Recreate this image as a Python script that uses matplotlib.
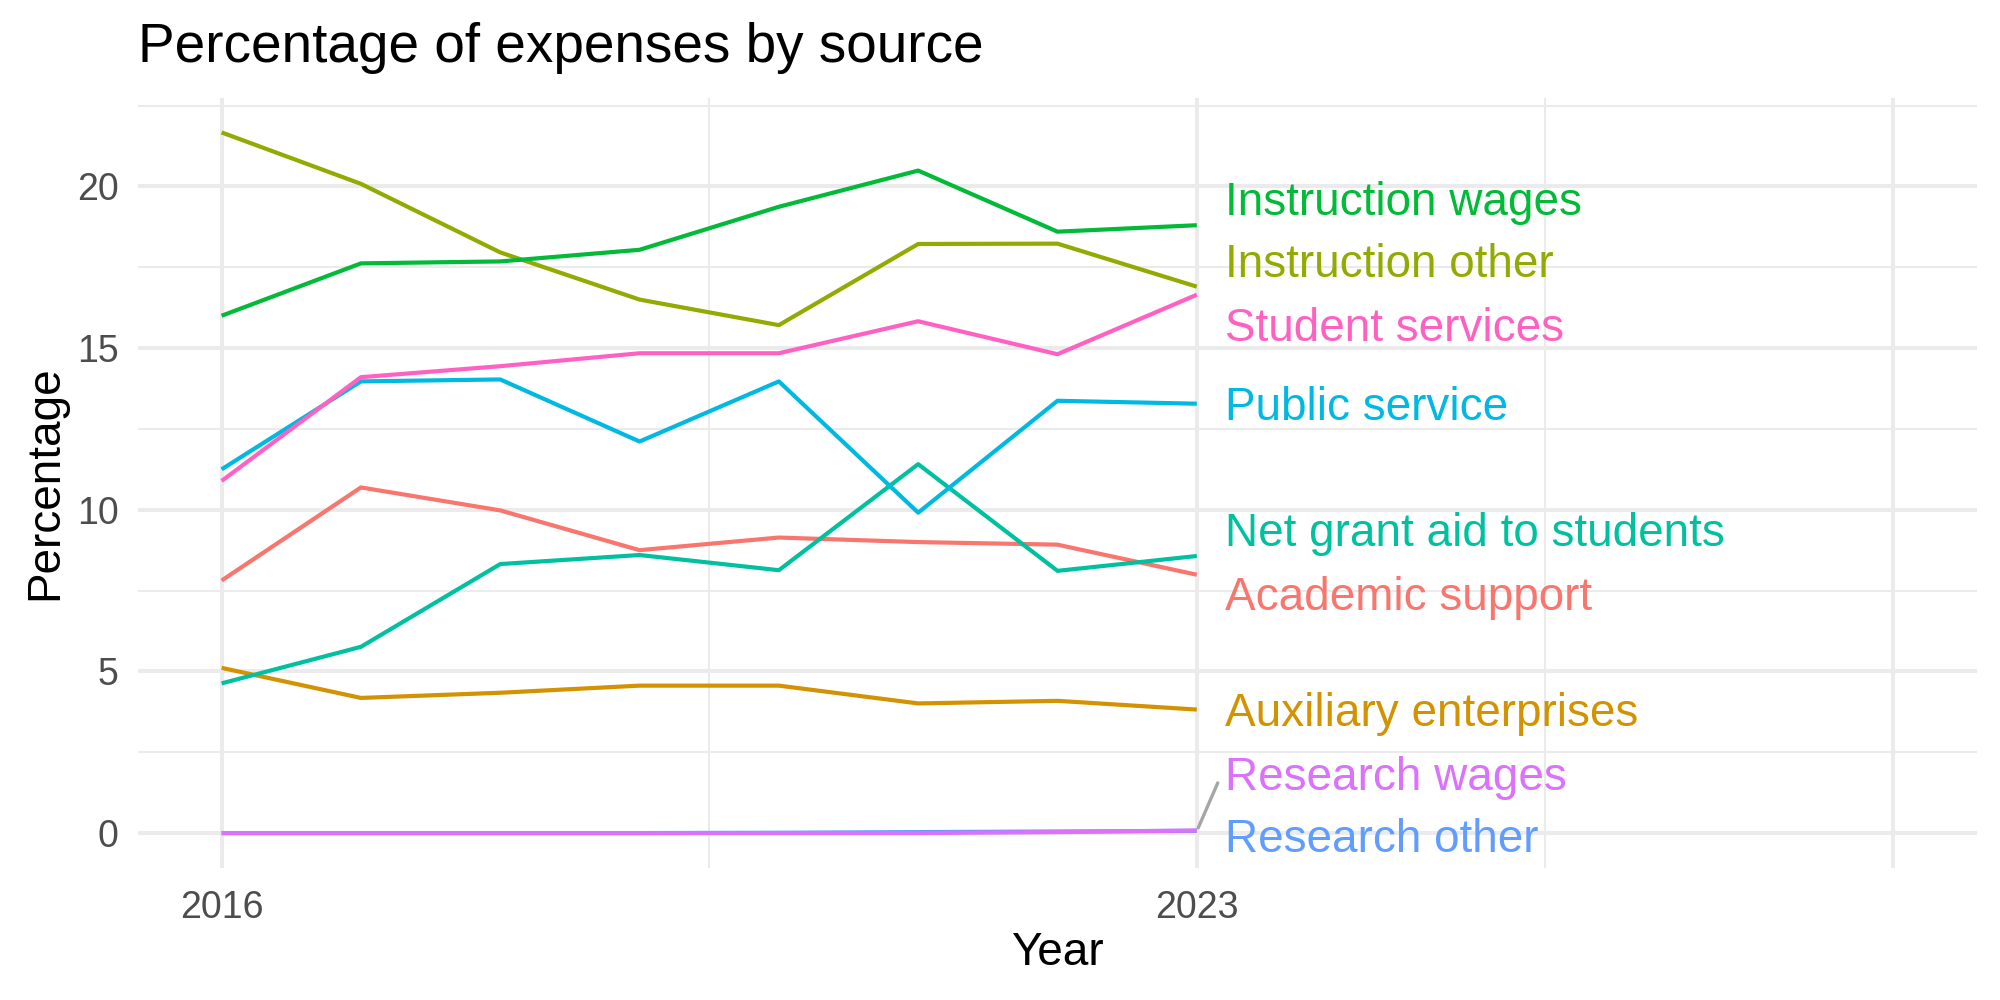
import matplotlib
matplotlib.use("Agg")
import matplotlib.pyplot as plt
from matplotlib.ticker import FixedLocator

plt.rcParams['font.family'] = ['Liberation Sans', 'DejaVu Sans']

years = [2016, 2017, 2018, 2019, 2020, 2021, 2022, 2023]

categories = [
    "Academic support",
    "Auxiliary enterprises",
    "Instruction other",
    "Instruction wages",
    "Net grant aid to students",
    "Public service",
    "Research other",
    "Research wages",
    "Student services",
]

academic_support = [7.81, 10.69, 9.98, 8.75, 9.14, 9.00, 8.92, 7.99]
auxiliary_enterprises = [5.11, 4.18, 4.34, 4.56, 4.56, 4.01, 4.09, 3.82]
instruction_other = [21.67, 20.08, 17.96, 16.50, 15.71, 18.22, 18.23, 16.90]
instruction_wages = [16.00, 17.62, 17.68, 18.04, 19.37, 20.49, 18.60, 18.80]
net_grant_aid = [4.63, 5.76, 8.32, 8.60, 8.13, 11.41, 8.11, 8.57]
public_service = [11.25, 13.97, 14.03, 12.11, 13.97, 9.91, 13.37, 13.28]
research_other = [0.00, 0.00, 0.00, 0.00, 0.01, 0.03, 0.05, 0.07]
research_wages = [0.00, 0.00, 0.00, 0.00, 0.00, 0.00, 0.03, 0.08]
student_services = [10.89, 14.10, 14.44, 14.84, 14.84, 15.83, 14.81, 16.65]

series = [academic_support, auxiliary_enterprises, instruction_other,
          instruction_wages, net_grant_aid, public_service, research_other,
          research_wages, student_services]

colors = ["#F8766D", "#D39200", "#93AA00", "#00BA38", "#00C19F",
          "#00B9E3", "#619CFF", "#DB72FB", "#FF61C3"]

# repelled label baselines (layout)
label_baselines = [6.90, 3.31, 17.21, 19.13, 8.87, 12.79, -0.60, 1.34, 15.23]
label_x = 2023.2

x_tick_labels = ["2016", "2023"]
y_tick_labels = ["0", "5", "10", "15", "20"]

fig = plt.figure(figsize=(20, 10), dpi=100)
ax = fig.add_axes([0.069, 0.132, 0.9195, 0.7705])

grid_col = "#EBEBEB"
for v in [2016, 2023, 2028]:
    ax.axvline(v, color=grid_col, lw=2.9, zorder=0)
for v in [2019.5, 2025.5]:
    ax.axvline(v, color=grid_col, lw=1.5, zorder=0)
for v in [0, 5, 10, 15, 20]:
    ax.axhline(v, color=grid_col, lw=2.9, zorder=0)
for v in [2.5, 7.5, 12.5, 17.5, 22.5]:
    ax.axhline(v, color=grid_col, lw=1.5, zorder=0)

for vals, col in zip(series, colors):
    ax.plot(years, vals, color=col, lw=3.0, solid_capstyle='butt', zorder=2)

# segment for research wages label
rw_end = research_wages[-1]
ax.plot([years[-1] + 0.01, years[-1] + 0.15], [rw_end + 0.08, 1.55],
        color="#A6A6A6", lw=2.4, solid_capstyle='round', zorder=3)

for cat, col, yb in zip(categories, colors, label_baselines):
    ax.text(label_x, yb, cat, color=col, fontsize=33, ha='left',
            va='baseline', zorder=4)

ax.set_xlim(2015.4, 2028.6)
ax.set_ylim(-1.08, 22.75)

ax.xaxis.set_major_locator(FixedLocator([2016, 2023]))
ax.set_xticklabels(x_tick_labels)
ax.yaxis.set_major_locator(FixedLocator([0, 5, 10, 15, 20]))
ax.set_yticklabels(y_tick_labels)
ax.tick_params(axis='both', length=0, labelsize=27, labelcolor="#4D4D4D")
ax.tick_params(axis='y', pad=14)
ax.tick_params(axis='x', pad=16)
for s in ax.spines.values():
    s.set_visible(False)

fig.text(0.069, 1 - 0.062, "Percentage of expenses by source", fontsize=39.5,
         ha='left', va='baseline', color='black')
fig.text((0.069 + 0.9885) / 2, 0.035, "Year", fontsize=33, ha='center',
         va='baseline', color='black')
fig.text(0.0285, 1 - 0.483, "Percentage", fontsize=33, rotation=90,
         rotation_mode='anchor', ha='center', va='baseline', color='black')

fig.savefig("out.png", dpi=100, facecolor='white')
